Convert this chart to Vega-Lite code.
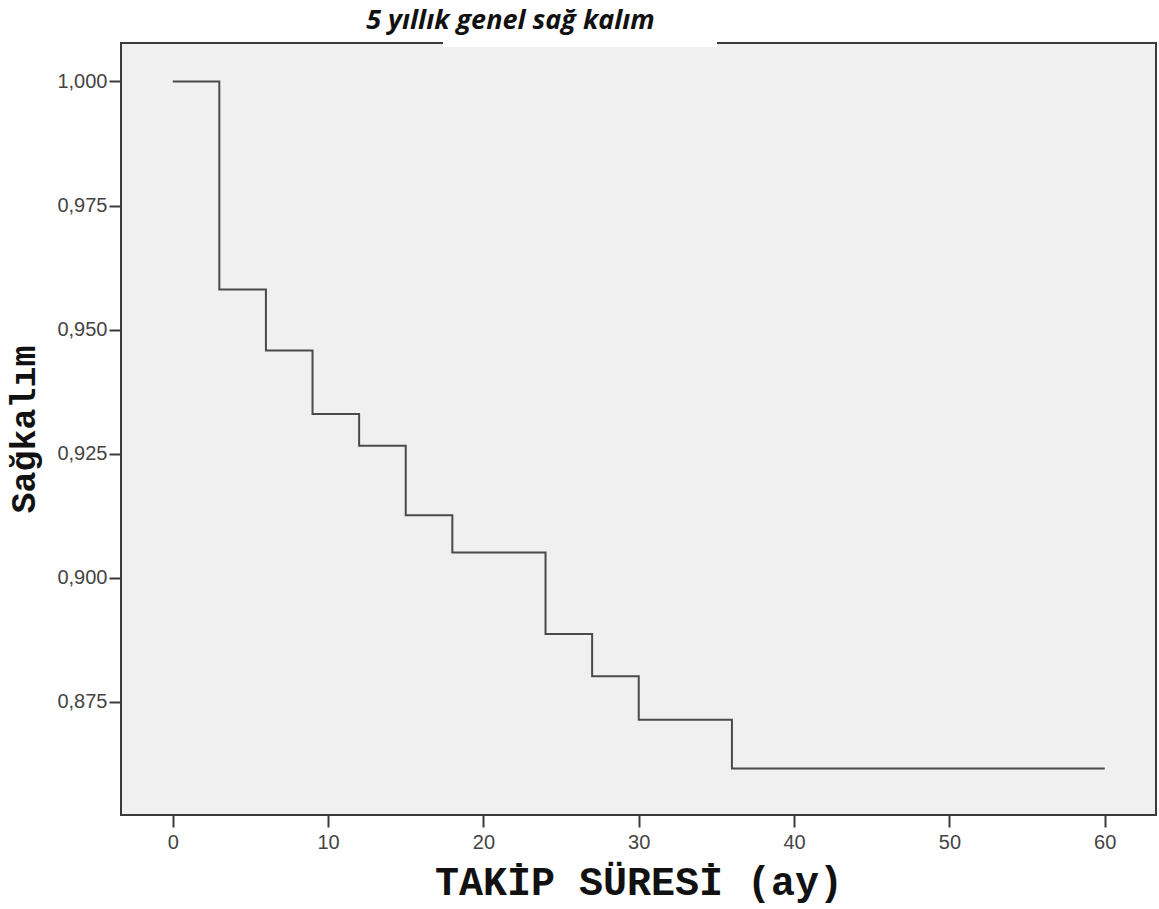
{
  "$schema": "https://vega.github.io/schema/vega-lite/v6.json",
  "width": 1035,
  "height": 772,
  "autosize": {"type": "none"},
  "padding": {"left": 121, "top": 43, "right": 3, "bottom": 94},
  "background": "#FFFFFF",
  "config": {
    "view": {"fill": "#F0F0F0", "stroke": "#3a3a3a", "strokeWidth": 2},
    "axis": {
      "grid": false,
      "domain": false,
      "tickColor": "#3a3a3a",
      "tickWidth": 2,
      "tickSize": 12,
      "labelFont": "Liberation Sans",
      "labelFontSize": 20,
      "labelColor": "#444444"
    }
  },
  "title": {
    "text": "5 yıllık genel sağ kalım",
    "font": "Open Sans",
    "fontSize": 27,
    "fontWeight": "bold",
    "fontStyle": "italic",
    "color": "#111111",
    "anchor": "middle",
    "frame": "group",
    "dx": -128,
    "dy": 34,
    "baseline": "bottom",
    "offset": 10
  },
  "data": {
    "values": [
      {"t": 0, "s": 1.0},
      {"t": 3, "s": 0.9581},
      {"t": 6, "s": 0.9458},
      {"t": 9, "s": 0.933},
      {"t": 12, "s": 0.9266},
      {"t": 15, "s": 0.9126},
      {"t": 18, "s": 0.9051},
      {"t": 24, "s": 0.8887},
      {"t": 27, "s": 0.8802},
      {"t": 30, "s": 0.8714},
      {"t": 36, "s": 0.8616},
      {"t": 60, "s": 0.8616}
    ]
  },
  "layer": [
    {
      "mark": {"type": "line", "interpolate": "step-after", "color": "#4a4a4a", "strokeWidth": 2},
      "encoding": {
        "x": {
          "field": "t",
          "type": "quantitative",
          "scale": {"domain": [-3.33, 63.3], "nice": false, "zero": false},
          "axis": {
            "values": [0, 10, 20, 30, 40, 50, 60],
            "title": "TAKİP SÜRESİ (ay)",
            "titleFont": "Liberation Mono",
            "titleFontSize": 40,
            "titleFontWeight": "bold",
            "titleColor": "#111111",
            "titleBaseline": "alphabetic",
            "titleY": 79,
            "labelPadding": 5
          }
        },
        "y": {
          "field": "s",
          "type": "quantitative",
          "scale": {"domain": [0.85224, 1.00773], "nice": false, "zero": false},
          "axis": {
            "values": [0.875, 0.9, 0.925, 0.95, 0.975, 1.0],
            "labelExpr": "replace(format(datum.value, '.3f'), '.', ',')",
            "labelPadding": 2,
            "title": "Sağkalım",
            "titleFont": "Liberation Mono",
            "titleFontSize": 35,
            "titleFontWeight": "bold",
            "titleColor": "#111111",
            "titleX": -80,
            "titleBaseline": "bottom"
          }
        }
      }
    },
    {
      "mark": {"type": "rect", "fill": "#FFFFFF", "stroke": null},
      "encoding": {
        "x": {"datum": 17.4, "type": "quantitative"},
        "x2": {"datum": 35.0},
        "y": {"datum": 1.0087, "type": "quantitative"},
        "y2": {"datum": 1.007}
      }
    }
  ]
}
